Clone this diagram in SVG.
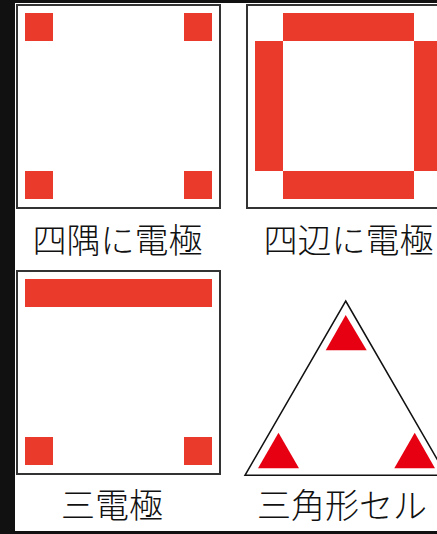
<svg xmlns="http://www.w3.org/2000/svg" width="437" height="534" viewBox="0 0 437 534">
<style>
.cell{fill:#fff;stroke:#333;stroke-width:2}
.el{fill:#e93a2b}
.tri{fill:#e60012}
.lbl{font-family:"Noto Sans CJK JP","Noto Sans",sans-serif;font-size:34px;font-weight:300;fill:#111;text-anchor:middle}
</style>
<rect x="0" y="0" width="437" height="534" fill="#111"/>
<rect x="15" y="3" width="422" height="528" fill="#fff"/>
<g id="corners">
<rect class="cell" x="17" y="5" width="203" height="203"/>
<rect class="el" x="25" y="13" width="28" height="28"/>
<rect class="el" x="184" y="13" width="28" height="28"/>
<rect class="el" x="25" y="171" width="28" height="28"/>
<rect class="el" x="184" y="171" width="28" height="28"/>
<text class="lbl" x="117.5" y="253">四隅に電極</text>
</g>
<g id="edges">
<rect class="cell" x="247" y="5" width="203" height="203"/>
<rect class="el" x="283" y="13" width="131" height="28"/>
<rect class="el" x="255" y="41" width="28" height="130"/>
<rect class="el" x="414" y="41" width="28" height="130"/>
<rect class="el" x="283" y="171" width="131" height="28"/>
<text class="lbl" x="348.5" y="253">四辺に電極</text>
</g>
<g id="three">
<rect class="cell" x="17" y="271" width="203" height="203"/>
<rect class="el" x="25" y="279" width="187" height="28"/>
<rect class="el" x="25" y="437" width="28" height="28"/>
<rect class="el" x="184" y="437" width="28" height="28"/>
<text class="lbl" x="112" y="518">三電極</text>
</g>
<g id="triangle">
<polygon points="345.7,301 446.4,475.3 245,475.3" fill="#fff" stroke="#111" stroke-width="1.5"/>
<polygon class="tri" points="345.7,315 366.7,350.3 325.7,350.3"/>
<polygon class="tri" points="278.5,432.7 299,468.3 258,468.3"/>
<polygon class="tri" points="414.7,432.7 435,468.3 394.3,468.3"/>
<text class="lbl" x="342" y="518">三角形セル</text>
</g>
</svg>
